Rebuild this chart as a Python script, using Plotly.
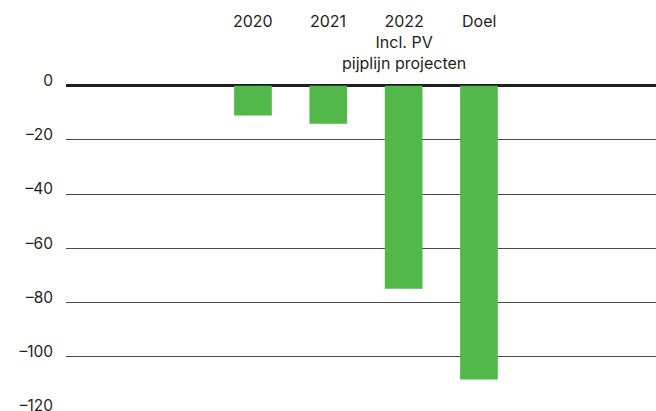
import plotly.graph_objects as go

# Chart data
categories = ["2020", "2021", "2022", "Doel"]
category_labels = ["2020", "2021", "2022<br>Incl. PV<br>pijplijn projecten", "Doel"]
values = [-11, -14, -75, -108.5]
y_ticks = [0, -20, -40, -60, -80, -100, -120]

GREEN = "#51b849"
TEXT = "#231f20"
FONT = "Inter, Liberation Sans, Arial, sans-serif"

W, H = 656, 411
TOP = 70
plot_h = H - TOP
y_min, y_max = -120.1, 5.8

fig = go.Figure()
fig.add_trace(go.Bar(
    x=categories,
    y=values,
    width=0.5,
    marker=dict(color=GREEN, line=dict(width=0)),
    hoverinfo="skip",
))

# Category captions above the zero line (positioned by category index)
for i, lab in enumerate(category_labels):
    fig.add_annotation(
        x=i, xref="x",
        y=(H - 9.5) / plot_h, yref="paper",
        text=lab, showarrow=False,
        xanchor="center", yanchor="top", align="center",
        font=dict(family=FONT, size=16, color=TEXT),
    )

fig.update_layout(
    width=W, height=H,
    margin=dict(l=66, r=0, t=TOP, b=0, pad=0, autoexpand=False),
    paper_bgcolor="white", plot_bgcolor="white",
    showlegend=False,
    xaxis=dict(
        type="category",
        categoryorder="array", categoryarray=categories,
        range=[-2.482, 5.35],
        showticklabels=False, showgrid=False, zeroline=False,
        showline=False, ticks="", automargin=False,
        fixedrange=True,
    ),
    yaxis=dict(
        range=[y_min, y_max],
        tickmode="array", tickvals=y_ticks,
        ticktext=[str(v).replace("-", "\u2013") for v in y_ticks],
        ticks="", showline=False, automargin=False,
        showgrid=True, gridcolor="#4a4a4a", gridwidth=1.2,
        zeroline=True, zerolinecolor="#1e1e1e", zerolinewidth=2.6,
        tickfont=dict(family=FONT, size=15.5, color=TEXT),
        ticklabelstandoff=12,
        ticklabelshift=-5,
        ticklabeloverflow="allow",
        fixedrange=True,
    ),
)

fig.write_html("out.html")
